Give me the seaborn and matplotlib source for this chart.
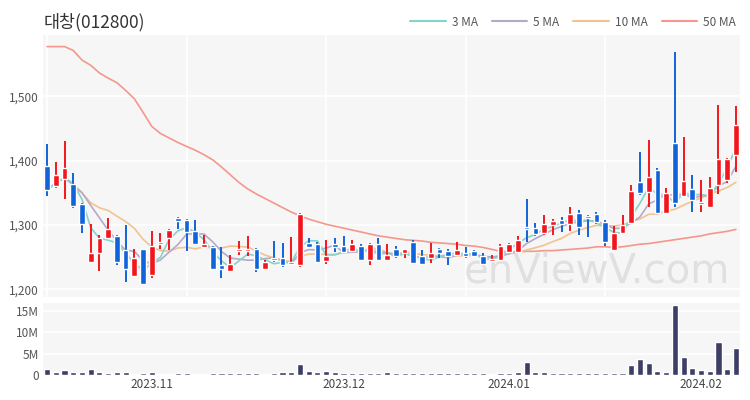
import numpy as np
import pandas as pd
import matplotlib
matplotlib.use("Agg")
import matplotlib.pyplot as plt
import seaborn as sns
from matplotlib.lines import Line2D
from matplotlib.ticker import FuncFormatter

# 일별 시세 (2023-10-16 ~ 2024-02-07)
opens = [1392, 1360, 1372, 1363, 1332, 1243, 1256, 1279, 1282, 1261,
         1220, 1262, 1222, 1270, 1280, 1311, 1307, 1290, 1266, 1266,
         1237, 1228, 1259, 1260, 1262, 1231, 1248, 1249, 1240, 1237,
         1272, 1271, 1244, 1271, 1268, 1260, 1267, 1246, 1270, 1245,
         1262, 1256, 1274, 1251, 1248, 1262, 1259, 1253, 1256, 1259,
         1252, 1244, 1245, 1258, 1258, 1297, 1295, 1287, 1300, 1307,
         1301, 1319, 1314, 1317, 1305, 1261, 1287, 1303, 1367, 1351,
         1385, 1319, 1428, 1345, 1355, 1332, 1328, 1362, 1370, 1408]
closes = [1354, 1377, 1388, 1329, 1302, 1256, 1280, 1293, 1243, 1231,
          1248, 1208, 1267, 1274, 1292, 1306, 1289, 1271, 1271, 1231,
          1231, 1239, 1262, 1263, 1231, 1243, 1245, 1237, 1243, 1317,
          1266, 1243, 1251, 1266, 1258, 1270, 1245, 1270, 1246, 1253,
          1252, 1262, 1241, 1239, 1256, 1256, 1252, 1261, 1251, 1252,
          1240, 1247, 1268, 1270, 1277, 1293, 1286, 1301, 1306, 1302,
          1317, 1297, 1310, 1304, 1274, 1287, 1300, 1352, 1349, 1375,
          1318, 1349, 1334, 1368, 1338, 1336, 1357, 1403, 1403, 1455]
highs = [1426, 1398, 1430, 1381, 1334, 1301, 1285, 1311, 1285, 1300,
         1263, 1263, 1290, 1288, 1294, 1313, 1309, 1308, 1285, 1268,
         1265, 1253, 1275, 1282, 1264, 1246, 1275, 1272, 1281, 1318,
         1280, 1273, 1276, 1279, 1282, 1277, 1271, 1272, 1279, 1271,
         1267, 1263, 1276, 1261, 1272, 1264, 1262, 1274, 1266, 1261,
         1256, 1253, 1271, 1272, 1283, 1341, 1303, 1315, 1309, 1312,
         1328, 1323, 1315, 1320, 1307, 1298, 1316, 1362, 1414, 1432,
         1388, 1357, 1568, 1437, 1378, 1370, 1374, 1486, 1404, 1485]
lows = [1345, 1358, 1341, 1326, 1287, 1242, 1228, 1278, 1237, 1211,
        1219, 1207, 1218, 1263, 1261, 1293, 1260, 1269, 1264, 1230,
        1218, 1227, 1253, 1252, 1227, 1230, 1243, 1234, 1239, 1235,
        1265, 1242, 1239, 1258, 1256, 1259, 1244, 1237, 1245, 1244,
        1248, 1249, 1240, 1237, 1241, 1249, 1238, 1252, 1248, 1250,
        1239, 1242, 1244, 1257, 1257, 1274, 1283, 1285, 1285, 1289,
        1291, 1284, 1281, 1302, 1267, 1260, 1286, 1302, 1347, 1328,
        1317, 1317, 1328, 1344, 1320, 1320, 1327, 1348, 1365, 1382]
ma50 = [1577, 1577, 1577, 1571, 1556, 1548, 1536, 1528, 1521, 1509,
        1496, 1475, 1453, 1442, 1435, 1428, 1422, 1416, 1409, 1401,
        1390, 1378, 1366, 1356, 1348, 1341, 1334, 1327, 1320, 1314,
        1309, 1305, 1301, 1298, 1295, 1292, 1289, 1286, 1283, 1281,
        1279, 1277, 1276, 1275, 1273, 1272, 1271, 1270, 1268, 1267,
        1265, 1262, 1259, 1258, 1258, 1259, 1259, 1260, 1260, 1261,
        1262, 1263, 1264, 1266, 1266, 1265, 1266, 1268, 1270, 1271,
        1273, 1275, 1277, 1279, 1281, 1283, 1286, 1288, 1290, 1293]
# 거래량 (백만 주)
volumes = [1.4, 0.7, 1.1, 0.6, 0.6, 1.3, 0.7, 0.5, 0.6, 0.6,
           0.35, 0.5, 0.6, 0.35, 0.35, 0.5, 0.5, 0.35, 0.35, 0.5,
           0.5, 0.4, 0.4, 0.4, 0.4, 0.3, 0.4, 0.8, 0.8, 2.6,
           1.0, 0.6, 0.9, 0.75, 0.45, 0.45, 0.45, 0.45, 0.45, 0.6,
           0.45, 0.45, 0.5, 0.45, 0.5, 0.45, 0.45, 0.5, 0.45, 0.4,
           0.4, 0.35, 0.5, 0.5, 0.65, 3.0, 0.7, 0.6, 0.55, 0.5,
           0.5, 0.5, 0.5, 0.45, 0.45, 0.5, 0.45, 2.4, 3.7, 2.7,
           1.0, 0.8, 16.3, 4.3, 1.6, 1.2, 1.0, 7.6, 1.3, 6.2]

holidays = ["2023-12-25", "2023-12-29", "2024-01-01"]
dates = pd.bdate_range("2023-10-16", "2024-02-07")
dates = dates[~dates.isin(pd.to_datetime(holidays))]

df = pd.DataFrame({"date": dates, "open": opens, "close": closes,
                   "high": highs, "low": lows,
                   "volume": np.array(volumes) * 1e6, "ma50": ma50})
df["idx"] = np.arange(len(df))
df["ma3"] = df.close.rolling(3, min_periods=1).mean()
df["ma5"] = df.close.rolling(5, min_periods=1).mean()
df["ma10"] = df.close.rolling(10, min_periods=1).mean()

sns.set_theme(style="white")
plt.rcParams['font.family'] = ['Noto Sans CJK KR', 'DejaVu Sans']

RED = "#f2161c"
BLUE = "#1163da"
BG = "#f6f6f7"
ma_cols = {"ma3": "#84d3c9", "ma5": "#b5a9ca", "ma10": "#f1c38f", "ma50": "#f4978c"}

fig = plt.figure(figsize=(7.5, 4), dpi=100)
ax = fig.add_axes([0.057, 0.2575, 0.93, 0.655])
ax2 = fig.add_axes([0.057, 0.0625, 0.93, 0.18])

for a in (ax, ax2):
    a.set_facecolor(BG)
    a.set_axisbelow(True)
    for s in a.spines.values():
        s.set_visible(False)

# 이동평균선
for col in ["ma50", "ma10", "ma5", "ma3"]:
    sns.lineplot(data=df, x="idx", y=col, ax=ax, color=ma_cols[col], lw=1.2, zorder=2)

# 캔들
up = df.close >= df.open
colors = np.where(up, RED, BLUE)
ax.vlines(df.idx, df.low, df.high, colors=colors, lw=1.4, zorder=3)
body = (df.close - df.open).abs().clip(lower=1.5)
ax.bar(df.idx, body, bottom=np.minimum(df.open, df.close), width=0.65,
       color=colors, zorder=4)

ax.set_xlim(-0.5, len(df) - 0.5)
ax.set_ylim(1188, 1595)
ax.set_yticks([1200, 1300, 1400, 1500])
ax.yaxis.set_major_formatter(FuncFormatter(lambda v, p: f"{int(v):,}"))
grid_idx = [0, 16, 32, 48, 64]
ax.set_xticks(grid_idx)
ax.set_xticklabels([])
ax.grid(True, color="white", lw=1.2)
ax.set_xlabel("")
ax.set_ylabel("")
ax.tick_params(axis="y", labelsize=8.5, colors="#555555", length=0, pad=3)
ax.tick_params(axis="x", length=0)

ax.text(0.985, 0.02, "enViewV.com", transform=ax.transAxes, ha="right", va="bottom",
        fontsize=29, color="#e0e0e0", family="DejaVu Sans", zorder=1)

# 거래량
sns.barplot(data=df, x="idx", y="volume", ax=ax2, color="#3d3d65", width=0.7,
            saturation=1, zorder=3)
ax2.set_xlim(-0.5, len(df) - 0.5)
ax2.set_ylim(0, 16.8e6)
ax2.set_yticks([0, 5e6, 10e6, 15e6])
ax2.yaxis.set_major_formatter(FuncFormatter(lambda v, p: "0" if v == 0 else f"{int(v / 1e6)}M"))
month_idx = [df.index[(df.date.dt.month == m) & (df.date.dt.year == y)][0]
             for y, m in [(2023, 11), (2023, 12), (2024, 1), (2024, 2)]]
ax2.set_xticks(month_idx)
ax2.set_xticklabels([df.date[i].strftime("%Y.%m") for i in month_idx])
ax2.grid(True, axis="y", color="white", lw=1.2)
ax2.set_xlabel("")
ax2.set_ylabel("")
ax2.tick_params(axis="y", labelsize=8.5, colors="#555555", length=0, pad=3)
ax2.tick_params(axis="x", labelsize=8.5, colors="#444444", length=0, pad=2)

fig.text(0.058, 0.945, "대창(012800)", fontsize=12.5, color="#333333", va="center")

handles = [Line2D([], [], color=ma_cols[c], lw=1.5) for c in ["ma3", "ma5", "ma10", "ma50"]]
fig.legend(handles, ["3 MA", "5 MA", "10 MA", "50 MA"], loc="center right",
           bbox_to_anchor=(0.995, 0.945), ncol=4, frameon=False, fontsize=8.5,
           handlelength=3.0, columnspacing=1.2, handletextpad=0.5, labelcolor="#555555")

fig.savefig("out.png", dpi=100)
